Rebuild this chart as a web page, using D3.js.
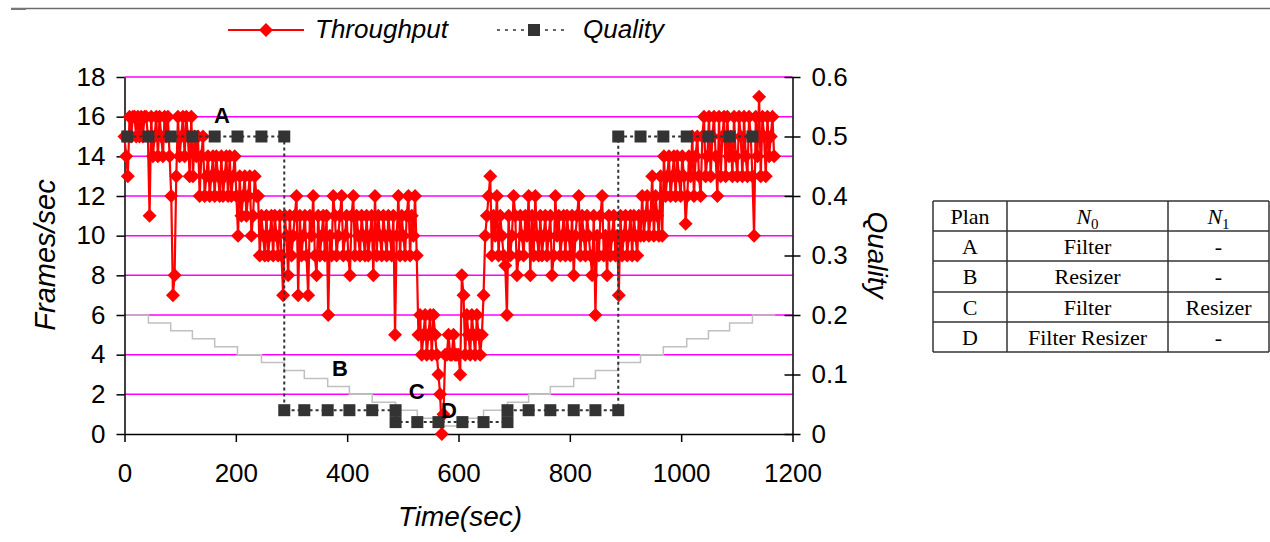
<!DOCTYPE html>
<html>
<head>
<meta charset="utf-8">
<script src="https://cdn.jsdelivr.net/npm/d3@7"></script>
<style>
body { margin: 0; background: #fff; }
svg text { font-family: "Liberation Sans", Arial, sans-serif; fill: #000; }
</style>
</head>
<body>
<script>
//data
//throughput samples, one every 3 seconds starting at t=0 (frames/sec)
var sampleStep = 3;
var throughput = [
    15,14,13,16,15,16,16,15,16,15,   16,15,16,16,15,11,16,14,15,16,
    14,16,15,14,16,15,16,14,12,7,    8,13,16,14,15,16,14,16,15,13,
    16,13,15,14,15,12,14,15,12,13,   14,12,13,14,12,14,13,12,14,12,
    13,14,12,14,12,13,14,12,10,13,   11,12,13,11,12,13,10,11,13,12,
    12,9,11,10,9,11,9,10,11,9,       11,10,9,11,9,7,11,10,8,11,
    9,10,11,12,7,11,9,10,11,9,       7,11,10,12,9,8,11,9,10,11,
    9,11,6,10,9,12,11,9,10,11,       12,9,10,11,9,8,11,12,9,11,
    10,9,11,10,9,11,9,10,11,8,       12,9,11,10,9,11,10,9,11,10,
    9,11,5,10,12,9,11,10,9,11,       12,9,11,10,12,9,5,6,4,5,
    6,4,5,6,4,6,5,4,3,2,             0,1,4,4,5,4,4,5,4,4,
    4,3,8,7,4,6,5,4,6,5,             4,6,5,4,5,7,10,11,12,13,
    9,11,10,12,9,11,10,9,8.5,6,      11,9,10,12,11,8,9,11,10,9,
    11,10,12,8,11,9,12,10,9,11,      9,10,11,9,10,11,8,9,12,10,
    11,9,10,11,9,11,10,9,11,8,       10,11,12,9,11,10,9,11,10,9,
    8,11,6,10,9,11,12,9,10,8,        11,9,10,11,9,10,7,11,9,10,
    11,9,10,11,9,11,10,9,11,10,      12,10,11,12,10,11,13,10,12,11,
    10,13,10,14,12,13,14,12,13,14,   12,14,13,12,14,13,10.6,12,14,13,
    15,12,14,15,13,12,15,16,13,14,   16,13,15,16,14,12,16,13,15,16,
    13,16,14,15,13,16,14,13,16,15,   13,16,14,13,16,15,13,10,16,14,
    17,13,16,15,13,16,14,15,16,14
];

//quality (right axis)
var qualityTime = [5, 43, 83, 122, 162, 203, 246, 287,
    287, 323, 365, 404, 445, 487,
    487, 526, 564, 607, 645, 688,
    688, 726, 765, 807, 846, 887,
    887, 927, 968, 1010, 1049, 1087, 1128];
var qualityValue = [0.5, 0.5, 0.5, 0.5, 0.5, 0.5, 0.5, 0.5,
    0.04, 0.04, 0.04, 0.04, 0.04, 0.04,
    0.02, 0.02, 0.02, 0.02, 0.02, 0.02,
    0.04, 0.04, 0.04, 0.04, 0.04, 0.04,
    0.5, 0.5, 0.5, 0.5, 0.5, 0.5, 0.5];

//grey step line (left axis units)
var baseTime = [0, 43, 83, 122, 162, 203, 246, 287, 323, 365, 404, 445, 487, 526, 564,
    607, 645, 688, 726, 765, 807, 846, 887, 927, 968, 1010, 1049, 1087, 1128, 1169];
var baseLevel = [6.0, 5.6, 5.2, 4.8, 4.4, 4.0, 3.6, 3.2, 2.8, 2.4, 2.0, 1.6, 1.2, 0.8, 0.4,
    0.8, 1.2, 1.6, 2.0, 2.4, 2.8, 3.2, 3.6, 4.0, 4.4, 4.8, 5.2, 5.6, 6.0, 6.0];

//plan annotations
var planNames = ["A", "B", "C", "D"];
var planTime = [175, 387, 525, 583];
var planFps = [16.1, 3.33, 2.17, 1.21];

//ticks
var timeTicks = [0, 200, 400, 600, 800, 1000, 1200];
var fpsTicks = [0, 2, 4, 6, 8, 10, 12, 14, 16, 18];
var qualityTicks = [0, 0.1, 0.2, 0.3, 0.4, 0.5, 0.6];

//table
var tableHeader = ["Plan", "N0", "N1"];
var tableRows = [
    ["A", "Filter", "-"],
    ["B", "Resizer", "-"],
    ["C", "Filter", "Resizer"],
    ["D", "Filter Resizer", "-"]
];

var width = 1270;
var height = 542;

var svg = d3.select("body").append("svg")
    .attr("width", width)
    .attr("height", height);

//scales
var x = d3.scaleLinear().domain([0, 1200]).range([124.5, 792.5]);
var yFps = d3.scaleLinear().domain([0, 18]).range([434, 77]);
var yQ = d3.scaleLinear().domain([0, 0.6]).range([434, 77]);

//rule at the top of the page
svg.append("line")
    .attr("x1", 11).attr("x2", width)
    .attr("y1", 8.5).attr("y2", 8.5)
    .attr("stroke", "#6b6b6b")
    .attr("stroke-width", 1.5);
svg.append("rect")
    .attr("x", 11).attr("y", 8)
    .attr("width", 15).attr("height", 2)
    .attr("fill", "#777");

//gridlines
svg.append("g").selectAll("line")
    .data(fpsTicks.filter(function(d){ return d > 0; }))
    .enter().append("line")
    .attr("x1", x(0)).attr("x2", x(1200))
    .attr("y1", function(d){ return yFps(d); })
    .attr("y2", function(d){ return yFps(d); })
    .attr("stroke", "#ff00ff")
    .attr("stroke-width", 1.5);

//grey step line
var stepLine = d3.line()
    .x(function(d, i){ return x(baseTime[i]); })
    .y(function(d){ return yFps(d); })
    .curve(d3.curveStepAfter);

svg.append("path")
    .datum(baseLevel)
    .attr("d", stepLine)
    .attr("fill", "none")
    .attr("stroke", "#c0c0c0")
    .attr("stroke-width", 1.5);

//axes
var leftAxis = svg.append("g")
    .attr("transform", "translate(" + x(0) + ",0)")
    .call(d3.axisLeft(yFps).tickValues(fpsTicks).tickSize(8).tickSizeOuter(0).tickPadding(11));

var rightAxis = svg.append("g")
    .attr("transform", "translate(" + x(1200) + ",0)")
    .call(d3.axisRight(yQ).tickValues(qualityTicks).tickSize(8).tickSizeOuter(0).tickPadding(11)
        .tickFormat(function(d){ return d === 0 ? "0" : d3.format(".1f")(d); }));
rightAxis.selectAll(".tick line").attr("x1", -8);

var bottomAxis = svg.append("g")
    .attr("transform", "translate(0," + yFps(0) + ")")
    .call(d3.axisBottom(x).tickValues(timeTicks).tickSize(8).tickSizeOuter(0)
        .tickFormat(d3.format("d")));
bottomAxis.selectAll(".tick text").attr("y", 39).attr("dy", "0.35em");

[leftAxis, rightAxis, bottomAxis].forEach(function(a){
    a.select(".domain").attr("stroke", "#000").attr("stroke-width", 1.5);
    a.selectAll(".tick line").attr("stroke", "#000").attr("stroke-width", 1.5);
    a.selectAll(".tick text")
        .style("font-family", "'Liberation Sans', Arial, sans-serif")
        .style("font-size", "26px")
        .attr("fill", "#000");
});

//throughput series
var tpLine = d3.line()
    .x(function(d, i){ return x(i * sampleStep); })
    .y(function(d){ return yFps(d); });

svg.append("path")
    .datum(throughput)
    .attr("d", tpLine)
    .attr("fill", "none")
    .attr("stroke", "#ff0000")
    .attr("stroke-width", 2.2);

var diamond = "M0,-7L7,0L0,7L-7,0Z";

svg.append("g").selectAll("path")
    .data(throughput)
    .enter().append("path")
    .attr("d", diamond)
    .attr("transform", function(d, i){ return "translate(" + x(i * sampleStep) + "," + yFps(d) + ")"; })
    .attr("fill", "#ff0000");

//quality series
var qLine = d3.line()
    .x(function(d, i){ return x(qualityTime[i]); })
    .y(function(d){ return yQ(d); });

svg.append("path")
    .datum(qualityValue)
    .attr("d", qLine)
    .attr("fill", "none")
    .attr("stroke", "#333")
    .attr("stroke-width", 2)
    .attr("stroke-dasharray", "3,3");

svg.append("g").selectAll("rect")
    .data(qualityValue)
    .enter().append("rect")
    .attr("x", function(d, i){ return x(qualityTime[i]) - 6; })
    .attr("y", function(d){ return yQ(d) - 6; })
    .attr("width", 12)
    .attr("height", 12)
    .attr("fill", "#333");

//plan labels
svg.append("g").selectAll("text")
    .data(planNames)
    .enter().append("text")
    .attr("x", function(d, i){ return x(planTime[i]); })
    .attr("y", function(d, i){ return yFps(planFps[i]); })
    .attr("dy", "0.36em")
    .attr("text-anchor", "middle")
    .style("font-size", "22px")
    .style("font-weight", "bold")
    .text(function(d){ return d; });

//axis titles
svg.append("text")
    .attr("transform", "translate(55,255) rotate(-90)")
    .attr("text-anchor", "middle")
    .style("font-size", "29px")
    .style("font-style", "italic")
    .text("Frames/sec");

svg.append("text")
    .attr("transform", "translate(868,255) rotate(90)")
    .attr("text-anchor", "middle")
    .style("font-size", "28px")
    .style("font-style", "italic")
    .text("Quality");

svg.append("text")
    .attr("x", 460)
    .attr("y", 526)
    .attr("text-anchor", "middle")
    .style("font-size", "28px")
    .style("font-style", "italic")
    .text("Time(sec)");

//legend
var legend = svg.append("g").attr("class", "legend");

legend.append("line")
    .attr("x1", 228).attr("x2", 304).attr("y1", 30).attr("y2", 30)
    .attr("stroke", "#ff0000").attr("stroke-width", 2);
legend.append("path")
    .attr("d", diamond)
    .attr("transform", "translate(266,30)")
    .attr("fill", "#ff0000");
legend.append("text")
    .attr("x", 315).attr("y", 38)
    .style("font-size", "26px")
    .style("font-style", "italic")
    .text("Throughput");

legend.append("line")
    .attr("x1", 497).attr("x2", 569).attr("y1", 30).attr("y2", 30)
    .attr("stroke", "#333").attr("stroke-width", 1.5)
    .attr("stroke-dasharray", "3,5");
legend.append("rect")
    .attr("x", 528).attr("y", 24)
    .attr("width", 12).attr("height", 12)
    .attr("fill", "#333");
legend.append("text")
    .attr("x", 583).attr("y", 38)
    .style("font-size", "26px")
    .style("font-style", "italic")
    .text("Quality");

//table of plans
var colX = [933, 1007, 1168, 1269];
var rowY = [201, 231, 261, 292, 322, 352];

var table = svg.append("g").attr("class", "plans");

table.selectAll(".hline")
    .data(rowY)
    .enter().append("line")
    .attr("class", "hline")
    .attr("x1", colX[0]).attr("x2", colX[3])
    .attr("y1", function(d){ return d; }).attr("y2", function(d){ return d; })
    .attr("stroke", "#333").attr("stroke-width", 1.5);

table.selectAll(".vline")
    .data(colX)
    .enter().append("line")
    .attr("class", "vline")
    .attr("x1", function(d){ return d; }).attr("x2", function(d){ return d; })
    .attr("y1", rowY[0]).attr("y2", rowY[5])
    .attr("stroke", "#333").attr("stroke-width", 1.5);

var allRows = [tableHeader].concat(tableRows);
allRows.forEach(function(row, r){
    row.forEach(function(cell, c){
        var t = table.append("text")
            .attr("x", (colX[c] + colX[c + 1]) / 2)
            .attr("y", (rowY[r] + rowY[r + 1]) / 2)
            .attr("dy", "0.35em")
            .attr("text-anchor", "middle")
            .style("font-family", "'Liberation Serif', 'Times New Roman', serif")
            .style("font-size", "22px");
        if(r === 0 && c > 0){
            //N with subscript
            t.append("tspan").style("font-style", "italic").text(cell.slice(0, 1));
            t.append("tspan").attr("dy", 5).style("font-size", "15px").text(cell.slice(1));
        }else{
            t.text(cell);
        }
    });
});
</script>
</body>
</html>
